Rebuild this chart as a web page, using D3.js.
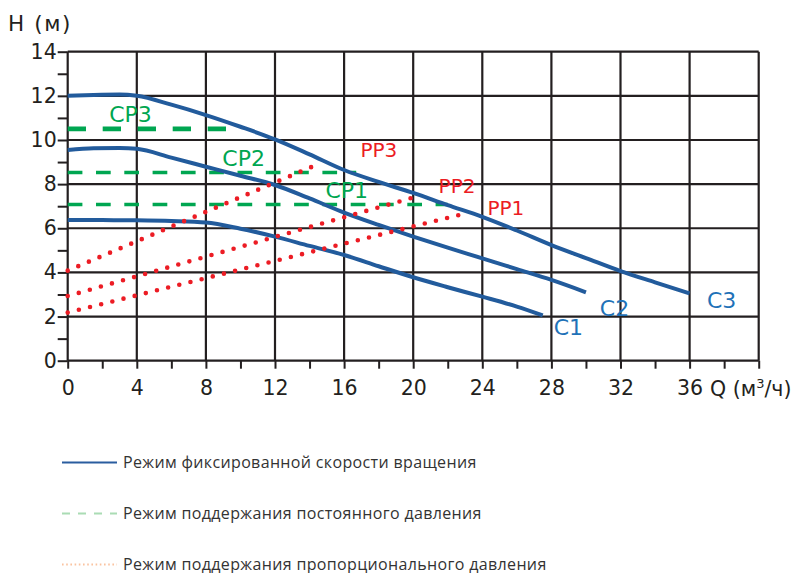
<!DOCTYPE html>
<html>
<head>
<meta charset="utf-8">
<script src="https://cdn.jsdelivr.net/npm/d3@7"></script>
<style>
  html, body { margin: 0; padding: 0; background: #fff; }
  svg { display: block; }
</style>
</head>
<body>
<svg id="chart" width="808" height="573"></svg>
<script>
// Pump performance curves: head H (m) versus flow Q (m³/h)

// Fixed-speed curves C1..C3: [Q, H]
const curveC1 = [[0,6.37],[2,6.37],[4,6.36],[6,6.33],[8,6.26],[10,5.98],[12,5.62],[14,5.2],[16,4.79],[18,4.28],[20,3.78],[22,3.33],[24,2.9],[26,2.45],[27.5,2.05]];
const curveC2 = [[0,9.55],[1.5,9.62],[3,9.64],[4,9.6],[6,9.2],[8,8.79],[10,8.38],[12,7.96],[14,7.35],[16,6.71],[18,6.15],[20,5.62],[22,5.12],[24,4.64],[26,4.15],[28,3.66],[30,3.1]];
const curveC3 = [[0,12],[1.5,12.04],[3,12.06],[4,12.0],[6,11.6],[8,11.13],[10,10.6],[12,10.03],[14,9.35],[16,8.64],[18,8.1],[20,7.6],[22,7.05],[24,6.52],[26,5.9],[28,5.24],[30,4.65],[32,4.06],[34,3.55],[36,3.05]];

// Constant-pressure settings CP1..CP3: [Q start, Q end, H]
const constantCP1 = [0, 22, 7.08];
const constantCP2 = [0, 16.7, 8.53];
const constantCP3 = [0, 9.2, 10.5];

// Proportional-pressure lines PP1..PP3: [[Q0, H0], [Q1, H1]]
const proportionalPP1 = [[0, 2.18], [22.9, 6.65]];
const proportionalPP2 = [[0, 2.93], [20.3, 7.46]];
const proportionalPP3 = [[0, 4.08], [14.6, 8.94]];

// Curve labels: [text, Q, H]
const labelsC = [["C1", 28.13, 1.16], ["C2", 30.8, 2.04], ["C3", 37.0, 2.39]];
const labelsCP = [["CP1", 14.92, 7.37], ["CP2", 8.95, 8.82], ["CP3", 2.4, 10.82]];
const labelsPP = [["PP1", 24.3, 6.6], ["PP2", 21.47, 7.6], ["PP3", 16.95, 9.23]];

// Axis ticks
const xTickLabels = [0, 4, 8, 12, 16, 20, 24, 28, 32, 36];
const xGridValues = [0, 4, 8, 12, 16, 20, 24, 28, 32, 36, 40];
const yTickLabels = [0, 2, 4, 6, 8, 10, 12, 14];

const axisTitleY = "H (м)";
const axisTitleX = ["Q (м", "3", "/ч)"];

const legendItems = [
  "Режим фиксированной скорости вращения",
  "Режим поддержания постоянного давления",
  "Режим поддержания пропорционального давления"
];

const svg = d3.select("#chart");
const x = d3.scaleLinear().domain([0, 40]).range([67.7, 758.7]);
const y = d3.scaleLinear().domain([0, 14]).range([360.7, 51.7]);

const gridColor = "#231f20";
const blue = "#225b9c";
const labelBlue = "#1f72b8";
const green = "#00a651";
const red = "#ec1c24";
const chartFont = "'DejaVu Sans', sans-serif";

// Grid
const grid = svg.append("g");
grid.selectAll("line.v").data(xGridValues).join("line")
  .attr("class", "v")
  .attr("x1", d => x(d)).attr("x2", d => x(d))
  .attr("y1", y(0)).attr("y2", y(14))
  .attr("stroke", gridColor).attr("stroke-width", 2.2);
grid.selectAll("line.h").data(yTickLabels).join("line")
  .attr("class", "h")
  .attr("x1", x(0)).attr("x2", x(40))
  .attr("y1", d => y(d)).attr("y2", d => y(d))
  .attr("stroke", gridColor).attr("stroke-width", 2.2);

// Y axis ticks and labels
const yAxis = d3.axisLeft(y)
  .tickValues(d3.range(0, 15, 1))
  .tickSize(10)
  .tickFormat(d => yTickLabels.includes(d) ? d : "");
const gy = svg.append("g").attr("transform", `translate(${x(0)},0)`).call(yAxis);
gy.select(".domain").remove();
gy.selectAll(".tick line").attr("stroke", gridColor).attr("stroke-width", 2);
gy.selectAll(".tick text")
  .attr("x", -11)
  .attr("font-family", chartFont).attr("font-size", 20.5).attr("fill", "#231f20");

// X axis ticks and labels
const xAxis = d3.axisBottom(x)
  .tickValues(d3.range(0, 41, 2))
  .tickSize(8)
  .tickFormat(d => xTickLabels.includes(d) ? d : "");
const gx = svg.append("g").attr("transform", `translate(0,${y(0)})`).call(xAxis);
gx.select(".domain").remove();
gx.selectAll(".tick line").attr("stroke", gridColor).attr("stroke-width", 2);
gx.selectAll(".tick text")
  .attr("y", 20)
  .attr("font-family", chartFont).attr("font-size", 20.5).attr("fill", "#231f20");

// Axis titles
svg.append("text").attr("x", 8).attr("y", 31)
  .attr("font-family", chartFont).attr("font-size", 21.5)
  .attr("letter-spacing", 1.6).attr("fill", "#231f20")
  .text(axisTitleY);
const qTitle = svg.append("text").attr("x", 710).attr("y", 396)
  .attr("font-family", chartFont).attr("font-size", 20.5).attr("fill", "#231f20");
qTitle.append("tspan").text(axisTitleX[0]);
qTitle.append("tspan").attr("font-size", 13).attr("dy", -8).text(axisTitleX[1]);
qTitle.append("tspan").attr("dy", 8).text(axisTitleX[2]);

const plot = svg.append("g");

// Constant-pressure lines
[[constantCP1, 3.6, "14.7 13.6"], [constantCP2, 3.6, "14.7 13.6"], [constantCP3, 4.8, "18.3 16.7"]]
  .forEach(([cp, w, dash]) => {
    plot.append("line")
      .attr("x1", x(cp[0])).attr("x2", x(cp[1]))
      .attr("y1", y(cp[2])).attr("y2", y(cp[2]))
      .attr("stroke", green).attr("stroke-width", w)
      .attr("stroke-dasharray", dash);
  });

// Fixed-speed curves
const line = d3.line().x(d => x(d[0])).y(d => y(d[1])).curve(d3.curveMonotoneX);
[curveC1, curveC2, curveC3].forEach(c => {
  plot.append("path").attr("d", line(c))
    .attr("fill", "none").attr("stroke", blue).attr("stroke-width", 4);
});

// Proportional-pressure lines, drawn as round dots
const straight = d3.line().x(d => x(d[0])).y(d => y(d[1]));
[proportionalPP1, proportionalPP2, proportionalPP3].forEach(pp => {
  plot.append("path").attr("d", straight(pp))
    .attr("fill", "none").attr("stroke", red).attr("stroke-width", 4.6)
    .attr("stroke-linecap", "round").attr("stroke-dasharray", "0 11.5");
});

// Curve labels
const labelGroup = svg.append("g").attr("font-family", chartFont);
labelGroup.selectAll("text.c").data(labelsC).join("text")
  .attr("class", "c")
  .attr("x", d => x(d[1])).attr("y", d => y(d[2]))
  .attr("font-size", 22).attr("fill", labelBlue).text(d => d[0]);
labelGroup.selectAll("text.cp").data(labelsCP).join("text")
  .attr("class", "cp")
  .attr("x", d => x(d[1])).attr("y", d => y(d[2]))
  .attr("font-size", 22).attr("fill", green).text(d => d[0]);
labelGroup.selectAll("text.pp").data(labelsPP).join("text")
  .attr("class", "pp")
  .attr("x", d => x(d[1])).attr("y", d => y(d[2]))
  .attr("font-size", 20).attr("fill", red).text(d => d[0]);

// Legend
const legendStyles = [
  { stroke: "#2a5d9f", width: 2, dash: null },
  { stroke: "#aadcb4", width: 2, dash: "8 8" },
  { stroke: "#fac3a0", width: 2, dash: "1.6 2.6" }
];
const legend = svg.append("g");
legendItems.forEach((txt, i) => {
  const ly = 462.5 + i * 51;
  const s = legendStyles[i];
  legend.append("line").attr("x1", 62).attr("x2", 117).attr("y1", ly).attr("y2", ly)
    .attr("stroke", s.stroke).attr("stroke-width", s.width)
    .attr("stroke-dasharray", s.dash);
  legend.append("text").attr("x", 123).attr("y", ly + 5.5)
    .attr("font-family", "'Open Sans', 'Noto Sans', sans-serif").attr("font-size", 16)
    .attr("letter-spacing", 0.35)
    .attr("fill", "#333").text(txt);
});
</script>
</body>
</html>
